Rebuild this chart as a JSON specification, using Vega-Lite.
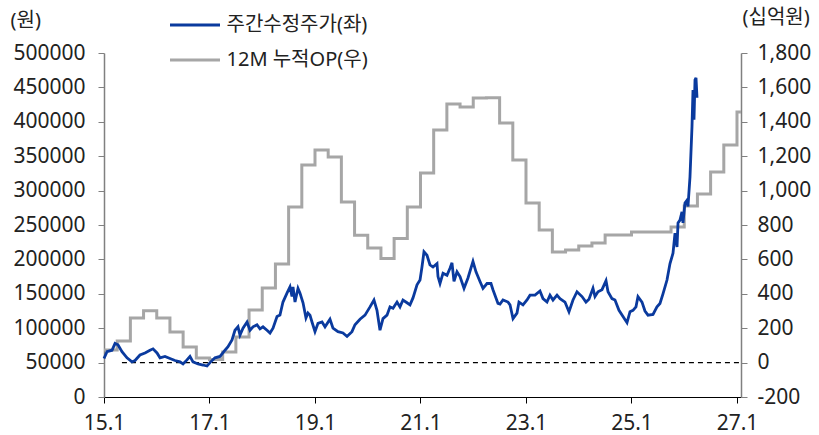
{
  "$schema": "https://vega.github.io/schema/vega-lite/v6.json",
  "width": 637,
  "height": 344,
  "autosize": {"type": "none"},
  "padding": {"left": 104, "top": 53, "right": 78, "bottom": 38},
  "background": "white",
  "config": {
    "view": {"stroke": null},
    "font": "Noto Sans, Noto Sans CJK KR",
    "axis": {"labelFont": "Noto Sans, Noto Sans CJK KR", "titleFont": "Noto Sans, Noto Sans CJK KR", "labelFontSize": 21, "labelColor": "#222222", "titleFontSize": 20, "titleFontWeight": "normal", "titleColor": "#222222", "grid": false, "labelFlush": false},
    "legend": {"labelFont": "Noto Sans, Noto Sans CJK KR"}
  },
  "datasets": {
    "price": [
      {"t":2015.000,"p":56000},{"t":2015.057,"p":66000},{"t":2015.152,"p":68000},{"t":2015.209,"p":78000},{"t":2015.265,"p":76000},{"t":2015.341,"p":66000},{"t":2015.436,"p":57000},{"t":2015.531,"p":51000},{"t":2015.588,"p":53000},{"t":2015.682,"p":61000},{"t":2015.777,"p":64000},{"t":2015.872,"p":68000},{"t":2015.929,"p":70000},{"t":2016.005,"p":64000},{"t":2016.062,"p":57000},{"t":2016.156,"p":59000},{"t":2016.251,"p":56000},{"t":2016.346,"p":53000},{"t":2016.441,"p":51000},{"t":2016.498,"p":48000},{"t":2016.573,"p":54000},{"t":2016.630,"p":59000},{"t":2016.687,"p":51000},{"t":2016.782,"p":48000},{"t":2016.877,"p":46500},{"t":2016.953,"p":45000},{"t":2017.009,"p":50000},{"t":2017.104,"p":57000},{"t":2017.199,"p":59000},{"t":2017.294,"p":68000},{"t":2017.351,"p":73000},{"t":2017.427,"p":83000},{"t":2017.483,"p":97000},{"t":2017.540,"p":102000},{"t":2017.578,"p":90000},{"t":2017.635,"p":100000},{"t":2017.711,"p":109000},{"t":2017.768,"p":97000},{"t":2017.825,"p":102000},{"t":2017.900,"p":105000},{"t":2017.957,"p":99000},{"t":2018.014,"p":102000},{"t":2018.090,"p":97000},{"t":2018.147,"p":93000},{"t":2018.204,"p":100000},{"t":2018.280,"p":117000},{"t":2018.336,"p":119000},{"t":2018.393,"p":138000},{"t":2018.469,"p":151000},{"t":2018.526,"p":160000},{"t":2018.564,"p":146000},{"t":2018.583,"p":160000},{"t":2018.621,"p":138000},{"t":2018.678,"p":158000},{"t":2018.716,"p":151000},{"t":2018.773,"p":137000},{"t":2018.829,"p":115000},{"t":2018.867,"p":122000},{"t":2018.905,"p":119000},{"t":2018.943,"p":109000},{"t":2019.000,"p":95000},{"t":2019.057,"p":107000},{"t":2019.133,"p":109000},{"t":2019.190,"p":102000},{"t":2019.284,"p":113000},{"t":2019.341,"p":100000},{"t":2019.436,"p":95000},{"t":2019.531,"p":93000},{"t":2019.607,"p":88000},{"t":2019.701,"p":95000},{"t":2019.758,"p":105000},{"t":2019.853,"p":113000},{"t":2019.948,"p":119000},{"t":2020.043,"p":131000},{"t":2020.118,"p":141000},{"t":2020.175,"p":126000},{"t":2020.232,"p":97000},{"t":2020.289,"p":114000},{"t":2020.365,"p":119000},{"t":2020.422,"p":131000},{"t":2020.479,"p":129000},{"t":2020.555,"p":138000},{"t":2020.611,"p":131000},{"t":2020.668,"p":141000},{"t":2020.744,"p":137000},{"t":2020.801,"p":134000},{"t":2020.858,"p":144000},{"t":2020.934,"p":163000},{"t":2020.991,"p":170000},{"t":2021.028,"p":189000},{"t":2021.066,"p":211000},{"t":2021.123,"p":206000},{"t":2021.180,"p":192000},{"t":2021.237,"p":189000},{"t":2021.313,"p":194000},{"t":2021.332,"p":175000},{"t":2021.370,"p":165000},{"t":2021.427,"p":180000},{"t":2021.502,"p":177000},{"t":2021.559,"p":187000},{"t":2021.597,"p":195000},{"t":2021.635,"p":168000},{"t":2021.692,"p":182000},{"t":2021.749,"p":175000},{"t":2021.825,"p":158000},{"t":2021.900,"p":173000},{"t":2021.995,"p":197000},{"t":2022.052,"p":182000},{"t":2022.128,"p":168000},{"t":2022.185,"p":158000},{"t":2022.261,"p":165000},{"t":2022.336,"p":165000},{"t":2022.374,"p":156000},{"t":2022.469,"p":136000},{"t":2022.507,"p":135000},{"t":2022.564,"p":141000},{"t":2022.659,"p":138000},{"t":2022.697,"p":134000},{"t":2022.754,"p":114000},{"t":2022.829,"p":122000},{"t":2022.867,"p":138000},{"t":2022.943,"p":134000},{"t":2023.019,"p":141000},{"t":2023.076,"p":148000},{"t":2023.171,"p":148000},{"t":2023.265,"p":154000},{"t":2023.322,"p":143000},{"t":2023.398,"p":138000},{"t":2023.455,"p":148000},{"t":2023.512,"p":141000},{"t":2023.588,"p":148000},{"t":2023.645,"p":143000},{"t":2023.739,"p":138000},{"t":2023.815,"p":124000},{"t":2023.891,"p":141000},{"t":2023.967,"p":153000},{"t":2024.062,"p":146000},{"t":2024.137,"p":138000},{"t":2024.194,"p":142000},{"t":2024.270,"p":158000},{"t":2024.308,"p":146000},{"t":2024.365,"p":153000},{"t":2024.441,"p":156000},{"t":2024.517,"p":169000},{"t":2024.555,"p":153000},{"t":2024.630,"p":143000},{"t":2024.687,"p":141000},{"t":2024.763,"p":126000},{"t":2024.839,"p":117000},{"t":2024.915,"p":108000},{"t":2024.972,"p":124000},{"t":2025.028,"p":126000},{"t":2025.085,"p":131000},{"t":2025.123,"p":146000},{"t":2025.199,"p":138000},{"t":2025.256,"p":125000},{"t":2025.313,"p":119000},{"t":2025.408,"p":120000},{"t":2025.483,"p":131000},{"t":2025.540,"p":136000},{"t":2025.597,"p":150000},{"t":2025.673,"p":170000},{"t":2025.730,"p":194000},{"t":2025.787,"p":209000},{"t":2025.825,"p":238000},{"t":2025.863,"p":218000},{"t":2025.882,"p":253000},{"t":2025.919,"p":257000},{"t":2025.957,"p":269000},{"t":2025.976,"p":253000},{"t":2026.014,"p":282000},{"t":2026.052,"p":286000},{"t":2026.071,"p":277000},{"t":2026.109,"p":320000},{"t":2026.147,"p":393000},{"t":2026.166,"p":446000},{"t":2026.185,"p":403000},{"t":2026.204,"p":461000},{"t":2026.223,"p":464000},{"t":2026.242,"p":435000}
    ],
    "op": [
      {"t":2015.00,"op":73},{"t":2015.25,"op":125},{"t":2015.50,"op":259},{"t":2015.75,"op":302},{"t":2016.00,"op":259},{"t":2016.25,"op":178},{"t":2016.50,"op":91},{"t":2016.75,"op":27},{"t":2017.00,"op":18},{"t":2017.25,"op":62},{"t":2017.50,"op":149},{"t":2017.75,"op":306},{"t":2018.00,"op":434},{"t":2018.25,"op":573},{"t":2018.50,"op":905},{"t":2018.75,"op":1149},{"t":2019.00,"op":1236},{"t":2019.25,"op":1195},{"t":2019.50,"op":934},{"t":2019.75,"op":740},{"t":2020.00,"op":666},{"t":2020.25,"op":605},{"t":2020.50,"op":722},{"t":2020.75,"op":905},{"t":2021.00,"op":1102},{"t":2021.25,"op":1352},{"t":2021.50,"op":1503},{"t":2021.75,"op":1486},{"t":2022.00,"op":1538},{"t":2022.25,"op":1540},{"t":2022.50,"op":1393},{"t":2022.75,"op":1178},{"t":2023.00,"op":928},{"t":2023.25,"op":771},{"t":2023.50,"op":643},{"t":2023.75,"op":655},{"t":2024.00,"op":678},{"t":2024.25,"op":695},{"t":2024.50,"op":742},{"t":2024.75,"op":742},{"t":2025.00,"op":759},{"t":2025.25,"op":759},{"t":2025.50,"op":759},{"t":2025.75,"op":788},{"t":2026.00,"op":910},{"t":2026.25,"op":980},{"t":2026.50,"op":1108},{"t":2026.75,"op":1265},{"t":2027.00,"op":1457},{"t":2027.076,"op":1457}
    ],
    "zero": [{"t0": 2015.34, "t1": 2027.076, "v": 0}]
  },
  "layer": [
    {
      "data": {"name": "op"},
      "mark": {"type": "line", "interpolate": "step-after", "strokeWidth": 3},
      "encoding": {
        "x": {"field": "t", "type": "quantitative", "scale": {"domain": [2015, 2027.076], "nice": false, "zero": false},
              "axis": {"values": [2015, 2017, 2019, 2021, 2023, 2025, 2027], "labelExpr": "slice(toString(datum.value), 2) + '.1'", "title": null, "domainColor": "#000000", "tickColor": "#000000", "tickSize": 6, "labelPadding": 9, "domainWidth": 1.2, "labelFontSize": 21}},
        "y": {"field": "op", "type": "quantitative", "scale": {"domain": [-200, 1800], "nice": false, "zero": false},
              "axis": {"orient": "right", "values": [-200, 0, 200, 400, 600, 800, 1000, 1200, 1400, 1600, 1800], "labelExpr": "datum.value < 0 ? '-' + format(-datum.value, ',') : format(datum.value, ',')", "title": "(십억원)", "titleAngle": 0, "titleAlign": "left", "titleBaseline": "middle", "titleX": 1, "titleY": -36, "domainColor": "#808080", "tickColor": "#808080", "tickSize": 6, "labelPadding": 10, "domainWidth": 1.5}},
        "color": {"datum": "12M 누적OP(우)", "scale": {"range": ["#a6a6a6"]},
                  "legend": {"orient": "none", "legendX": 64.5, "legendY": -19.5, "title": null, "padding": 0, "symbolType": "stroke", "symbolSize": 2500, "symbolStrokeWidth": 3, "labelFontSize": 20, "labelOffset": 5, "labelColor": "#222222"}}
      }
    },
    {
      "data": {"name": "zero"},
      "mark": {"type": "rule", "strokeDash": [5, 4], "color": "#000000", "strokeWidth": 1.2},
      "encoding": {
        "x": {"field": "t0", "type": "quantitative", "scale": {"domain": [2015, 2027.076], "nice": false, "zero": false}},
        "x2": {"field": "t1"},
        "y": {"field": "v", "type": "quantitative", "scale": {"domain": [-200, 1800], "nice": false, "zero": false}, "axis": null}
      }
    },
    {
      "data": {"name": "price"},
      "mark": {"type": "line", "strokeWidth": 2.8},
      "encoding": {
        "x": {"field": "t", "type": "quantitative", "scale": {"domain": [2015, 2027.076], "nice": false, "zero": false}},
        "y": {"field": "p", "type": "quantitative", "scale": {"domain": [0, 500000], "nice": false},
              "axis": {"orient": "left", "values": [0, 50000, 100000, 150000, 200000, 250000, 300000, 350000, 400000, 450000, 500000], "format": "d", "title": "(원)", "titleAngle": 0, "titleAlign": "left", "titleBaseline": "middle", "titleX": -94, "titleY": -33, "domainColor": "#808080", "tickColor": "#808080", "tickSize": 6, "labelPadding": 13, "domainWidth": 1.5}},
        "color": {"datum": "주간수정주가(좌)", "scale": {"range": ["#0a3a9e"]},
                  "legend": {"orient": "none", "legendX": 64.5, "legendY": -54.5, "title": null, "padding": 0, "symbolType": "stroke", "symbolSize": 2500, "symbolStrokeWidth": 3, "labelFontSize": 20, "labelOffset": 5, "labelColor": "#222222"}}
      }
    }
  ],
  "resolve": {"scale": {"y": "independent", "color": "independent"}}
}
